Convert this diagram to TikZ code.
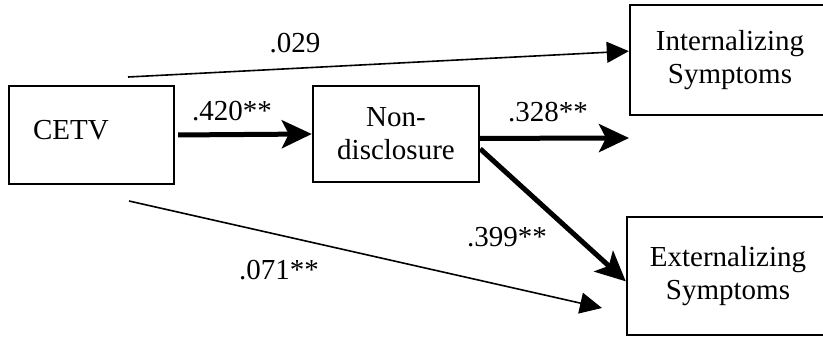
\documentclass[tikz,border=0pt]{standalone}
\usepackage{fontspec}
\setmainfont{Liberation Serif}
\usetikzlibrary{arrows.meta}

\begin{document}
\begin{tikzpicture}[x=0.5pt,y=-0.5pt,
    varbox/.style={draw,line width=1.2pt,inner sep=0pt,align=center,font=\fontsize{14.5}{16.5}\selectfont},
    coef/.style={inner sep=0pt,font=\fontsize{14.5}{16.5}\selectfont},
    thinpath/.style={line width=0.8pt,-{Triangle[length=11pt,width=10.5pt]}},
    thickpath/.style={line width=2.5pt,-{Stealth[length=15pt,width=14pt,inset=3.5pt]}}]
              \useasboundingbox (0,0) rectangle (823,337);
              \node[varbox,minimum width=82.5pt,minimum height=49pt,text width=58.5pt,align=left,text depth=5pt](cetv)at(91.5,135){CETV};
              \node[varbox,minimum width=83pt,minimum height=48pt](nd)at(396,134){Non-\\disclosure};
              \node[varbox,minimum width=100pt,minimum height=55pt](int)at(730,60){Internalizing\\Symptoms};
              \node[varbox,minimum width=101pt,minimum height=59pt](ext)at(728,276){Externalizing\\Symptoms};
              \coordinate (topstart) at (128,77);
              \coordinate (botstart) at (129,201);
              \coordinate (botend) at (602,308);
              \coordinate (midend) at (629,138);
              \draw[thinpath](topstart)--(int.175);
              \draw[thickpath,shorten <=1.5pt](cetv.east)--(nd.west);
              \draw[thickpath](nd.-3)--(midend);
              \draw[thickpath](nd.-10)--(ext.183);
              \draw[thinpath](botstart)--(botend);
              \node[coef](l029)at(295,43){.029};
              \node[coef](l420)at(232,111){.420**};
              \node[coef](l328)at(548,112){.328**};
              \node[coef](l399)at(507,237){.399**};
              \node[coef](l071)at(279,270){.071**};
            \end{tikzpicture}
\end{document}
